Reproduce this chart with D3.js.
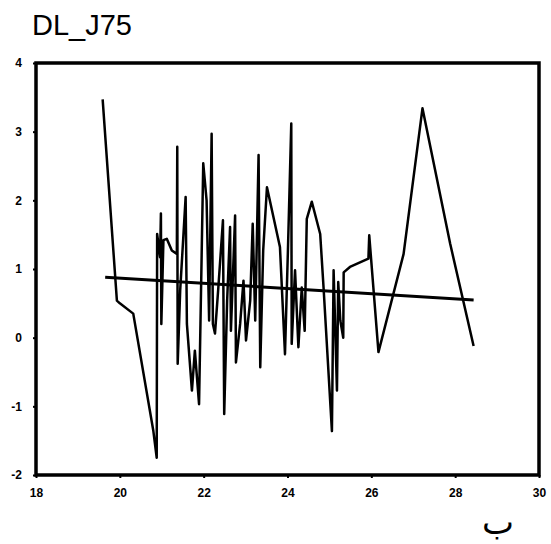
<!DOCTYPE html>
<html>
<head>
<meta charset="utf-8">
<script src="https://cdn.jsdelivr.net/npm/d3@7"></script>
<style>
    body { margin: 0; background: #fff; }
    .tick text { font-family: "Liberation Sans", Arial, sans-serif; font-weight: bold; }
</style>
</head>
<body>
<div id="chart"></div>
<script>
// series (x, DL_J75)
const xValues = [19.59, 19.93, 20.00, 20.32, 20.80, 20.88, 20.89, 20.96, 20.98, 20.99,
    21.04, 21.12, 21.24, 21.36, 21.37, 21.38, 21.44, 21.57, 21.60, 21.72,
    21.79, 21.89, 21.99, 22.07, 22.13, 22.19, 22.22, 22.27, 22.35, 22.46,
    22.49, 22.56, 22.63, 22.65, 22.75, 22.77, 22.87, 22.95, 23.01, 23.11,
    23.17, 23.23, 23.31, 23.35, 23.42, 23.51, 23.82, 23.94, 24.01, 24.09,
    24.10, 24.18, 24.26, 24.34, 24.41, 24.46, 24.58, 24.78, 24.86, 25.06,
    25.10, 25.18, 25.21, 25.26, 25.33, 25.34, 25.49, 25.93, 25.95, 26.17,
    26.77, 27.22, 27.88, 28.44];
const yValues = [3.47, 0.54, 0.50, 0.35, -1.36, -1.75, 1.51, 1.17, 1.81, 0.20,
    1.42, 1.44, 1.27, 1.22, 2.78, -0.38, 0.69, 2.05, 0.20, -0.77,
    -0.19, -0.97, 2.54, 2.00, 0.25, 2.97, 0.20, 0.06, 0.73, 1.71,
    -1.11, 0.54, 1.61, 0.10, 1.78, -0.36, 0.20, 0.83, -0.04, 0.54,
    1.66, 0.25, 2.66, -0.43, 1.27, 2.19, 1.32, -0.24, 1.27, 3.12,
    -0.09, 0.98, -0.14, 0.73, 0.10, 1.73, 1.98, 1.51, 0.73, -1.36,
    0.98, -0.77, 0.81, 0.25, 0.00, 0.95, 1.03, 1.15, 1.49, -0.21,
    1.22, 3.34, 1.37, -0.12];

// fitted line end points
const fitX = [19.65, 28.44];
const fitY = [0.88, 0.55];

const xTicks = [18, 20, 22, 24, 26, 28, 30];
const yTicks = [-2, -1, 0, 1, 2, 3, 4];

const margin = { top: 63, right: 12, bottom: 69, left: 36 };
const width = 551 - margin.left - margin.right;
const height = 544 - margin.top - margin.bottom;

const root = d3
    .select('#chart')
    .append('svg')
    .attr('width', 551)
    .attr('height', 544);

root.append('text')
    .attr('x', 32)
    .attr('y', 35)
    .style('font-family', '"Liberation Sans", Arial, sans-serif')
    .style('font-size', '29px')
    .text('DL_J75');

root.append('text')
    .attr('x', 498)
    .attr('y', 534)
    .attr('text-anchor', 'middle')
    .style('font-family', '"DejaVu Sans", sans-serif')
    .style('font-size', '34px')
    .text('ب');

const svg = root.append('g')
    .attr('transform', `translate(${margin.left}, ${margin.top})`);

const xScale = d3.scaleLinear().domain([18, 30]).range([0, width]);
const yScale = d3.scaleLinear().domain([-2, 4]).range([height, 0]);

// plain hyphen minus, as on the scan
const plain = d => String(d);

const xAxisGroup = svg.append('g')
    .attr('transform', `translate(0, ${height})`)
    .call(d3.axisBottom(xScale).tickValues(xTicks).tickFormat(plain).tickSize(3).tickPadding(10));

const yAxisGroup = svg.append('g')
    .call(d3.axisLeft(yScale).tickValues(yTicks).tickFormat(plain).tickSize(3).tickPadding(11));

[xAxisGroup, yAxisGroup].forEach(g => {
    g.select('.domain').remove();
    g.selectAll('.tick text').style('font-size', '12px');
    g.selectAll('.tick line').attr('stroke-width', 2);
});

// frame
svg.append('rect')
    .attr('x', 0)
    .attr('y', 0)
    .attr('width', width)
    .attr('height', height)
    .style('fill', 'none')
    .attr('stroke', '#000')
    .attr('stroke-width', 3.5);

const series = xValues.map((x, i) => ({ x: x, y: yValues[i] }));
const fit = fitX.map((x, i) => ({ x: x, y: fitY[i] }));

const line = d3.line()
    .x(d => xScale(d.x))
    .y(d => yScale(d.y));

svg.append('path')
    .data([series])
    .style('fill', 'none')
    .attr('stroke', '#000')
    .attr('stroke-width', 2.5)
    .attr('stroke-linejoin', 'round')
    .attr('d', line);

svg.append('path')
    .data([fit])
    .style('fill', 'none')
    .attr('stroke', '#000')
    .attr('stroke-width', 3)
    .attr('d', line);
</script>
</body>
</html>
